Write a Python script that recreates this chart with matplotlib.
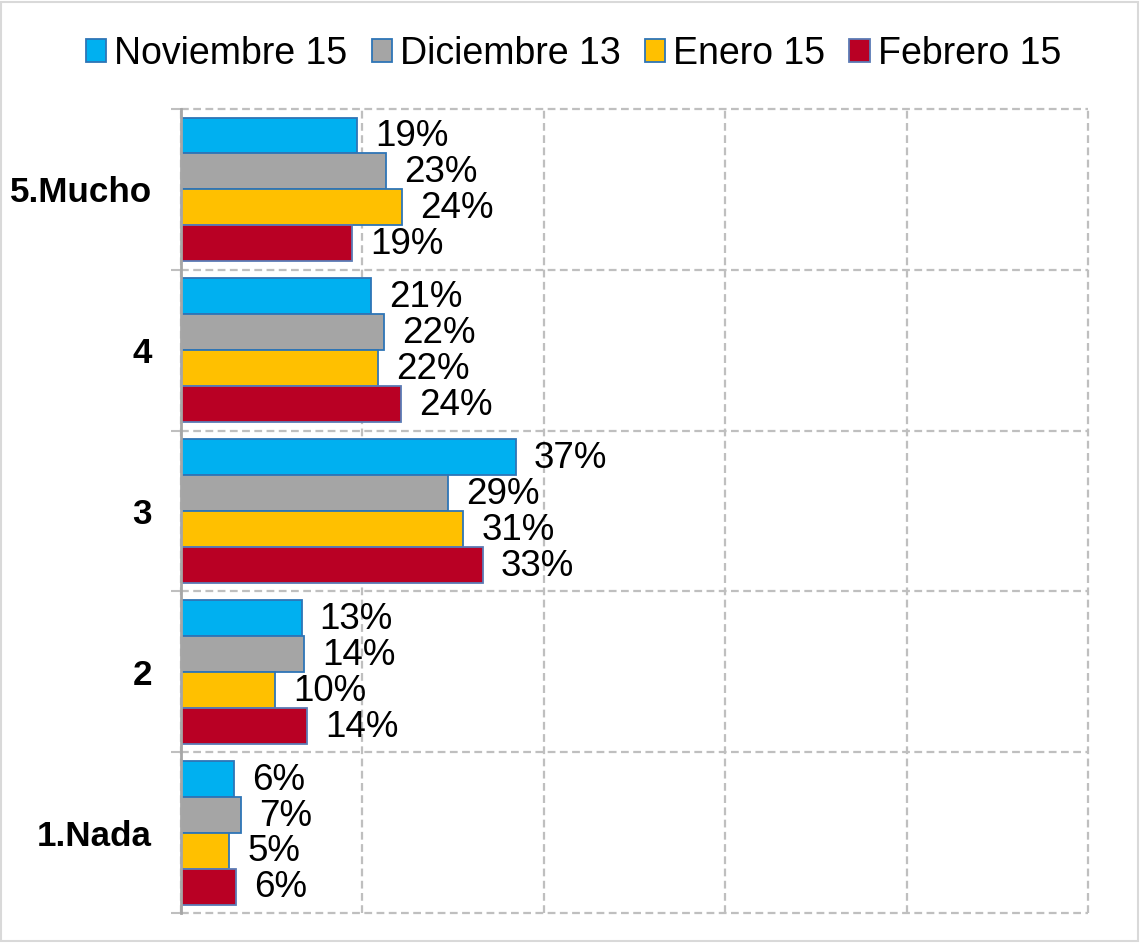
import numpy as np
import matplotlib
matplotlib.use("Agg")
import matplotlib.pyplot as plt
from matplotlib.patches import Rectangle

plt.rcParams['font.family'] = ['Liberation Sans', 'DejaVu Sans']

# datos
categorias = ['5.Mucho', '4', '3', '2', '1.Nada']
series = ['Noviembre 15', 'Diciembre 13', 'Enero 15', 'Febrero 15']
noviembre = [19.4, 20.9, 36.9, 13.3, 5.8]
diciembre = [22.6, 22.4, 29.4, 13.6, 6.6]
enero = [24.4, 21.7, 31.1, 10.4, 5.3]
febrero = [18.9, 24.3, 33.3, 13.9, 6.1]
valores = [noviembre, diciembre, enero, febrero]
colores = ['#00B0F0', '#A5A5A5', '#FFC000', '#B90024']
bordes = ['#2E75B6', '#2E75B6', '#2E75B6', '#5B7BB5']

fig = plt.figure(figsize=(11.4, 9.43), dpi=100)
ax = fig.add_axes([0.1588, 0.0318, 0.7956, 0.8526])

n = len(categorias)
y = np.arange(n)[::-1]  # 5.Mucho arriba
h = 0.2236

for i, (serie, vals) in enumerate(zip(series, valores)):
    pos = y + (1.5 - i) * h
    ax.barh(pos, vals, height=h, color=colores[i], edgecolor=bordes[i],
            linewidth=1.3, label=serie, zorder=3)
    for p, v in zip(pos, vals):
        ax.annotate(f"{v:.0f}%", (v, p), xytext=(13, -1), textcoords='offset points',
                    va='center', ha='left', fontsize=26.5, color='black')

ax.set_xlim(0, 100)
ax.set_ylim(-0.5, n - 0.5)

# ejes y rejilla
ax.set_xticks([0, 20, 40, 60, 80, 100])
ax.set_xticklabels([])
ax.tick_params(axis='x', length=0)
ax.set_yticks(y)
ax.set_yticklabels(categorias, fontsize=25.2, fontweight='bold')
ax.set_yticks(np.arange(-0.5, n), minor=True)
ax.tick_params(axis='y', which='major', length=0, pad=21)
ax.tick_params(axis='y', which='minor', length=7, width=1.5, color='#BFBFBF')

ax.grid(True, axis='x', which='major', color='#BFBFBF', linestyle=(0, (3.5, 2)), linewidth=1.6, zorder=0)
ax.grid(True, axis='y', which='minor', color='#BFBFBF', linestyle=(0, (3.5, 2)), linewidth=1.6, zorder=0)
for t in ax.xaxis.get_major_ticks() + ax.yaxis.get_minor_ticks():
    t.gridline.set_clip_on(False)

for s in ['top', 'right', 'bottom']:
    ax.spines[s].set_visible(False)
ax.spines['left'].set_color('#A6A6A6')
ax.spines['left'].set_linewidth(2)
ax.spines['left'].set_zorder(4)

fig.legend(loc='upper center', bbox_to_anchor=(0.503, 0.998), ncol=4, frameon=False,
           fontsize=27, handlelength=0.55, handleheight=0.55, handletextpad=0.2,
           columnspacing=0.65)

# marco exterior
fig.patches.append(Rectangle((0.001, 0.002), 0.997, 0.996, transform=fig.transFigure,
                             fill=False, edgecolor='#D9D9D9', linewidth=1.5))

fig.savefig('out.png', dpi=100)
